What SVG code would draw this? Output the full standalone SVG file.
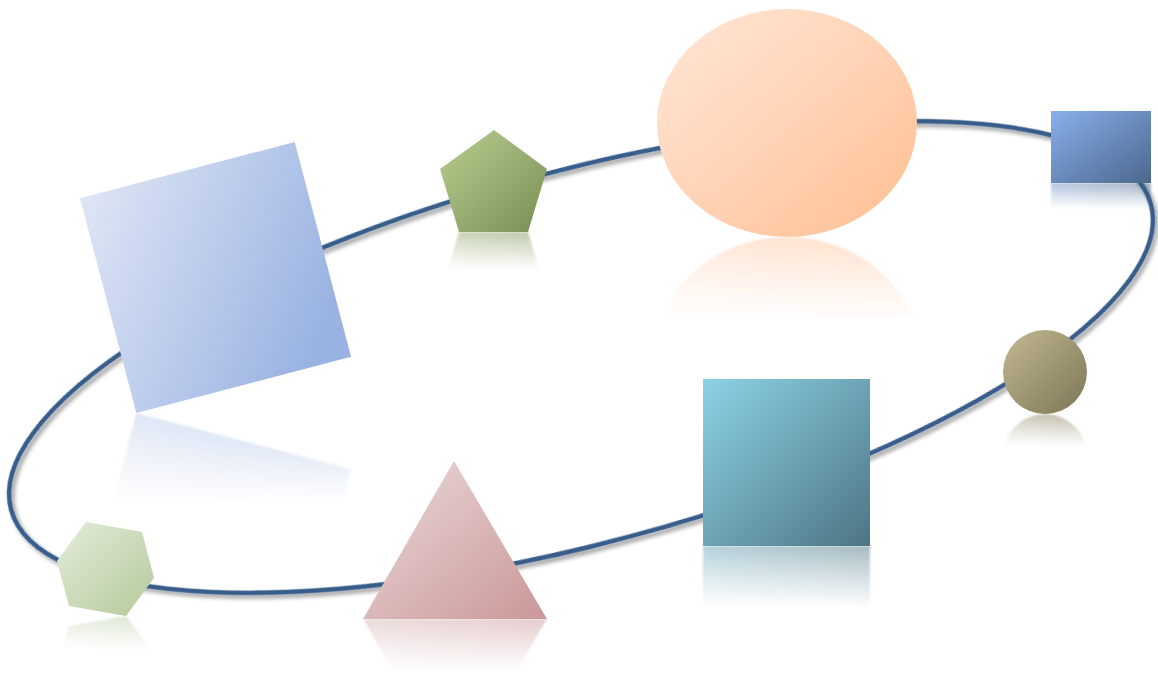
<svg xmlns="http://www.w3.org/2000/svg" xmlns:xlink="http://www.w3.org/1999/xlink" width="1158" height="674" viewBox="0 0 1158 674">
<style>
.orbit{fill:none;stroke:#385D8A;stroke-width:4.5}
.refl{filter:url(#soft)}
</style>
<defs>
<linearGradient id="gSq" x1="0" y1="0" x2="1" y2="0.75"><stop offset="0" stop-color="#DFE6F5"/><stop offset="1" stop-color="#99B2E2"/></linearGradient>
<linearGradient id="gPent" x1="0" y1="0" x2="1" y2="1"><stop offset="0" stop-color="#BAD092"/><stop offset="1" stop-color="#778D53"/></linearGradient>
<linearGradient id="gOval" x1="0" y1="0" x2="1" y2="1"><stop offset="0" stop-color="#FFE7D9"/><stop offset="1" stop-color="#FFBF92"/></linearGradient>
<linearGradient id="gSmall" x1="0" y1="0" x2="1" y2="1"><stop offset="0" stop-color="#88B0EA"/><stop offset="1" stop-color="#4B678D"/></linearGradient>
<linearGradient id="gBead" x1="0" y1="0" x2="1" y2="1"><stop offset="0" stop-color="#C3BA93"/><stop offset="1" stop-color="#7C7454"/></linearGradient>
<linearGradient id="gTeal" x1="0" y1="0" x2="1" y2="1"><stop offset="0" stop-color="#8DD2E6"/><stop offset="1" stop-color="#4D7584"/></linearGradient>
<linearGradient id="gTri" x1="0" y1="0" x2="1" y2="1"><stop offset="0" stop-color="#EADADB"/><stop offset="1" stop-color="#CB9797"/></linearGradient>
<linearGradient id="gHex" x1="0" y1="0" x2="1" y2="1"><stop offset="0" stop-color="#E3ECDA"/><stop offset="1" stop-color="#B4CA9C"/></linearGradient>
<linearGradient id="fade" x1="0" y1="0" x2="0" y2="1"><stop offset="0" stop-color="#fff" stop-opacity="0.5"/><stop offset="1" stop-color="#fff" stop-opacity="0"/></linearGradient>
<filter id="lineShadow" x="-5%" y="-10%" width="110%" height="125%">
<feGaussianBlur in="SourceAlpha" stdDeviation="2.2"/>
<feOffset dx="2" dy="4"/>
<feComponentTransfer><feFuncA type="linear" slope="0.4"/></feComponentTransfer>
<feMerge><feMergeNode/><feMergeNode in="SourceGraphic"/></feMerge>
</filter>
<filter id="soft" x="-5%" y="-5%" width="110%" height="110%"><feGaussianBlur stdDeviation="1"/></filter>
<g id="sSq"><rect x="-111" y="-111" width="222" height="222" fill="url(#gSq)" transform="translate(215.5,277.5) rotate(-14.7)"/></g>
<polygon id="sPent" points="494,130 547,169 528,232 459,232 440,169" fill="url(#gPent)"/>
<ellipse id="sOval" cx="787" cy="123" rx="130" ry="114" fill="url(#gOval)"/>
<rect id="sSmall" x="1051" y="111" width="100" height="72" fill="url(#gSmall)"/>
<circle id="sBead" cx="1045" cy="372" r="42" fill="url(#gBead)"/>
<rect id="sTeal" x="703" y="379" width="167" height="167" fill="url(#gTeal)"/>
<polygon id="sTri" points="454,461 547,619 363,619" fill="url(#gTri)"/>
<polygon id="sHex" points="86,522 142,532 154,578 126,616 69,606 57,561" fill="url(#gHex)"/>
<mask id="mSq" maskUnits="userSpaceOnUse" x="0" y="0" width="1158" height="674"><rect x="60" y="413" width="320" height="90" fill="url(#fade)"/></mask>
<mask id="mPent" maskUnits="userSpaceOnUse" x="0" y="0" width="1158" height="674"><rect x="430" y="232" width="130" height="38" fill="url(#fade)"/></mask>
<mask id="mOval" maskUnits="userSpaceOnUse" x="0" y="0" width="1158" height="674"><rect x="640" y="237" width="300" height="85" fill="url(#fade)"/></mask>
<mask id="mSmall" maskUnits="userSpaceOnUse" x="0" y="0" width="1158" height="674"><rect x="1040" y="183" width="118" height="26" fill="url(#fade)"/></mask>
<mask id="mBead" maskUnits="userSpaceOnUse" x="0" y="0" width="1158" height="674"><rect x="995" y="414" width="100" height="32" fill="url(#fade)"/></mask>
<mask id="mTeal" maskUnits="userSpaceOnUse" x="0" y="0" width="1158" height="674"><rect x="695" y="546" width="185" height="62" fill="url(#fade)"/></mask>
<mask id="mTri" maskUnits="userSpaceOnUse" x="0" y="0" width="1158" height="674"><rect x="350" y="619" width="210" height="55" fill="url(#fade)"/></mask>
<mask id="mHex" maskUnits="userSpaceOnUse" x="0" y="0" width="1158" height="674"><rect x="45" y="616" width="125" height="35" fill="url(#fade)"/></mask>
</defs>
<rect width="1158" height="674" fill="#fff"/>
<g id="reflections" class="refl">
<g mask="url(#mSq)"><use xlink:href="#sSq" href="#sSq" transform="translate(0,826) scale(1,-1)"/></g>
<g mask="url(#mPent)"><use xlink:href="#sPent" href="#sPent" transform="translate(0,464) scale(1,-1)"/></g>
<g mask="url(#mOval)"><use xlink:href="#sOval" href="#sOval" transform="translate(0,474) scale(1,-1)"/></g>
<g mask="url(#mSmall)"><use xlink:href="#sSmall" href="#sSmall" transform="translate(0,366) scale(1,-1)"/></g>
<g mask="url(#mBead)"><use xlink:href="#sBead" href="#sBead" transform="translate(0,828) scale(1,-1)"/></g>
<g mask="url(#mTeal)"><use xlink:href="#sTeal" href="#sTeal" transform="translate(0,1092) scale(1,-1)"/></g>
<g mask="url(#mTri)"><use xlink:href="#sTri" href="#sTri" transform="translate(0,1238) scale(1,-1)"/></g>
<g mask="url(#mHex)"><use xlink:href="#sHex" href="#sHex" transform="translate(0,1232) scale(1,-1)"/></g>
</g>
<g id="connectors">
<ellipse class="orbit" cx="581" cy="357" rx="590" ry="186" transform="rotate(-15 581 357)" filter="url(#lineShadow)"/>
</g>
<g id="node-big-square"><use xlink:href="#sSq" href="#sSq"/></g>
<g id="node-pentagon"><use xlink:href="#sPent" href="#sPent"/></g>
<g id="node-oval"><use xlink:href="#sOval" href="#sOval"/></g>
<g id="node-small-rect"><use xlink:href="#sSmall" href="#sSmall"/></g>
<g id="node-bead"><use xlink:href="#sBead" href="#sBead"/></g>
<g id="node-teal-square"><use xlink:href="#sTeal" href="#sTeal"/></g>
<g id="node-triangle"><use xlink:href="#sTri" href="#sTri"/></g>
<g id="node-hexagon"><use xlink:href="#sHex" href="#sHex"/></g>
</svg>
